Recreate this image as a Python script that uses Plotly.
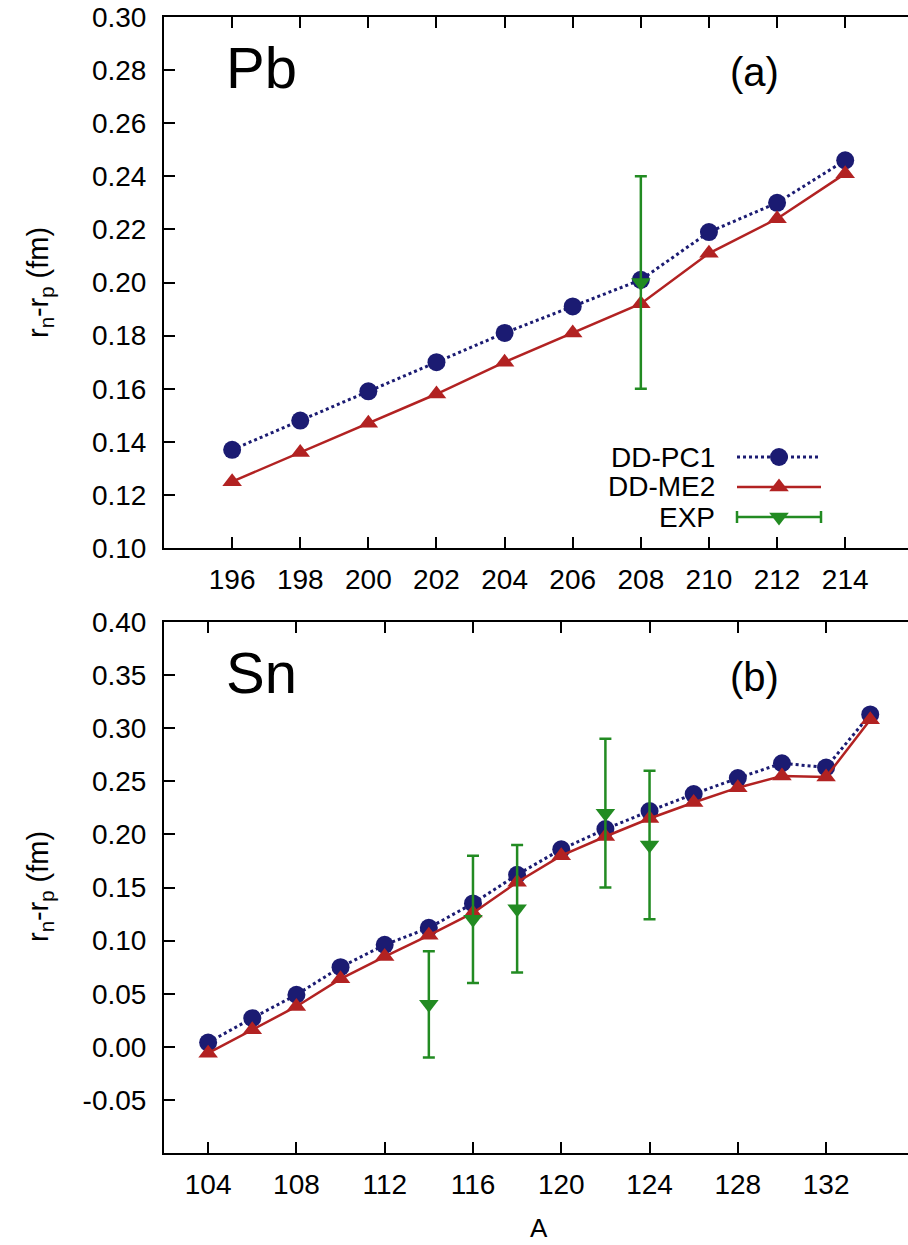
import plotly.graph_objects as go

# ---- Pb chain (panel a) ----
pb_A = [196, 198, 200, 202, 204, 206, 208, 210, 212, 214]
pb_pc1 = [0.137, 0.148, 0.159, 0.170, 0.181, 0.191, 0.201, 0.219, 0.230, 0.246]
pb_me2 = [0.125, 0.136, 0.147, 0.158, 0.170, 0.181, 0.192, 0.211, 0.224, 0.241]
pb_exp_A = [208]
pb_exp = [0.20]
pb_exp_err = [0.04]

# ---- Sn chain (panel b) ----
sn_A = [104, 106, 108, 110, 112, 114, 116, 118, 120, 122, 124, 126, 128, 130, 132, 134]
sn_pc1 = [0.004, 0.027, 0.049, 0.075, 0.096, 0.112, 0.135, 0.162, 0.186, 0.205,
          0.222, 0.238, 0.253, 0.267, 0.263, 0.313]
sn_me2 = [-0.006, 0.016, 0.038, 0.064, 0.085, 0.105, 0.126, 0.155, 0.180, 0.198,
          0.215, 0.230, 0.244, 0.255, 0.254, 0.308]
sn_exp_A = [114, 116, 118, 122, 124]
sn_exp = [0.04, 0.12, 0.13, 0.22, 0.19]
sn_exp_err = [0.05, 0.06, 0.06, 0.07, 0.07]

pb_xticks = [196, 198, 200, 202, 204, 206, 208, 210, 212, 214]
pb_yticks = [0.10, 0.12, 0.14, 0.16, 0.18, 0.20, 0.22, 0.24, 0.26, 0.28, 0.30]
sn_xticks = [104, 108, 112, 116, 120, 124, 128, 132]
sn_yticks = [-0.05, 0.00, 0.05, 0.10, 0.15, 0.20, 0.25, 0.30, 0.35, 0.40]

names = ["DD-PC1", "DD-ME2", "EXP"]

BLUE = "#1b1b72"
RED = "#b22222"
GREEN = "#228b22"
FONT = "Liberation Sans, Arial, sans-serif"

W, H = 908, 1245
ML, MR, MT, MB = 164, 0, 17, 92
PW, PH = W - ML - MR, H - MT - MB


def px(x):
    return (x - ML) / PW


def py(y):
    return (H - MB - y) / PH


fig = go.Figure()


def add_panel(xa, ya, A, pc1, me2, eA, e, err):
    fig.add_trace(go.Scatter(
        x=A, y=pc1, xaxis=xa, yaxis=ya, mode="lines+markers",
        line=dict(color=BLUE, width=3, dash="3px,3px"),
        marker=dict(symbol="circle", size=18, color=BLUE), showlegend=False))
    fig.add_trace(go.Scatter(
        x=A, y=me2, xaxis=xa, yaxis=ya, mode="lines+markers",
        line=dict(color=RED, width=2.5),
        marker=dict(symbol="triangle-up", size=17, color=RED), showlegend=False))
    fig.add_trace(go.Scatter(
        x=eA, y=e, xaxis=xa, yaxis=ya, mode="markers",
        error_y=dict(type="data", array=err, color=GREEN, thickness=2.5, width=6),
        marker=dict(symbol="triangle-down", size=17, color=GREEN), showlegend=False))


add_panel("x", "y", pb_A, pb_pc1, pb_me2, pb_exp_A, pb_exp, pb_exp_err)
add_panel("x2", "y2", sn_A, sn_pc1, sn_me2, sn_exp_A, sn_exp, sn_exp_err)

# ---- key for panel a, drawn on a full-figure pixel-unit axis pair ----
key_x0, key_x1, key_xm, key_tx = 737, 821, 779, 717
key_rows = [457, 487, 517]
key = dict(xaxis="x3", yaxis="y3", showlegend=False, hoverinfo="skip")
fig.add_trace(go.Scatter(x=[key_x0, key_x1], y=[key_rows[0]] * 2, mode="lines",
                         line=dict(color=BLUE, width=3, dash="3px,3px"), **key))
fig.add_trace(go.Scatter(x=[key_xm], y=[key_rows[0]], mode="markers",
                         marker=dict(symbol="circle", size=18, color=BLUE), **key))
fig.add_trace(go.Scatter(x=[key_x0, key_x1], y=[key_rows[1]] * 2, mode="lines",
                         line=dict(color=RED, width=2.5), **key))
fig.add_trace(go.Scatter(x=[key_xm], y=[key_rows[1]], mode="markers",
                         marker=dict(symbol="triangle-up", size=17, color=RED), **key))
fig.add_trace(go.Scatter(x=[key_x0, key_x1], y=[key_rows[2]] * 2, mode="lines",
                         line=dict(color=GREEN, width=2.5), **key))
for cx in (key_x0, key_x1):
    fig.add_trace(go.Scatter(x=[cx, cx], y=[key_rows[2] - 6, key_rows[2] + 6], mode="lines",
                             line=dict(color=GREEN, width=2.5), **key))
fig.add_trace(go.Scatter(x=[key_xm], y=[key_rows[2]], mode="markers",
                         marker=dict(symbol="triangle-down", size=17, color=GREEN), **key))

annotations = []
for name, ry in zip(names, key_rows):
    annotations.append(dict(x=px(key_tx), y=py(ry), text=name,
                            xanchor="right", yanchor="middle",
                            font=dict(size=28, color="black", family=FONT)))

# panel titles, tags and axis titles
annotations += [
    dict(x=px(224), y=py(67), text="Pb", font=dict(size=58, family=FONT, color="black"),
         xanchor="left", yanchor="middle"),
    dict(x=px(754), y=py(72), text="(a)", font=dict(size=40, family=FONT, color="black"),
         xanchor="center", yanchor="middle"),
    dict(x=px(224), y=py(672), text="Sn", font=dict(size=58, family=FONT, color="black"),
         xanchor="left", yanchor="middle"),
    dict(x=px(754), y=py(677), text="(b)", font=dict(size=40, family=FONT, color="black"),
         xanchor="center", yanchor="middle"),
    dict(x=px(40), y=py(283), text="r<sub>n</sub>-r<sub>p</sub> (fm)", textangle=-90,
         font=dict(size=29, family=FONT, color="black"), xanchor="center", yanchor="middle"),
    dict(x=px(40), y=py(887), text="r<sub>n</sub>-r<sub>p</sub> (fm)", textangle=-90,
         font=dict(size=29, family=FONT, color="black"), xanchor="center", yanchor="middle"),
    dict(x=px(539), y=py(1228), text="A", font=dict(size=26, family=FONT, color="black"),
         xanchor="center", yanchor="middle"),
]
for a in annotations:
    a["xref"] = "paper"
    a["yref"] = "paper"
    a["showarrow"] = False

tick_style = dict(ticks="inside", ticklen=11, tickwidth=1.5, tickcolor="black",
                  showgrid=False, zeroline=False)
axis_common = dict(
    showline=True, linecolor="black", linewidth=2, mirror="ticks",
    tickfont=dict(size=28, family=FONT, color="black"), **tick_style,
)
# left axes: line and ticks on the left only; right-hand ticks come from twin axes
yaxis_common = dict(
    showline=True, linecolor="black", linewidth=2, mirror=False,
    tickfont=dict(size=28, family=FONT, color="black"), **tick_style,
)

top_dom = [py(548), 1.0]
bot_dom = [0.0, py(622)]

fig.update_layout(
    width=W, height=H,
    margin=dict(l=ML, r=MR, t=MT, b=MB),
    paper_bgcolor="white", plot_bgcolor="rgba(0,0,0,0)",
    showlegend=False,
    annotations=annotations,
    xaxis=dict(domain=[0, 1], anchor="y", range=[194, 194 + PW / 34.06],
               tickvals=pb_xticks, ticktext=[str(v) for v in pb_xticks],
               ticklabelstandoff=5, **axis_common),
    yaxis=dict(domain=top_dom, anchor="x", range=[0.10, 0.30],
               tickvals=pb_yticks, ticktext=[f"{v:.2f}" for v in pb_yticks],
               ticklabelstandoff=10, **yaxis_common),
    xaxis2=dict(domain=[0, 1], anchor="y2", range=[102, 102 + PW / 22.07],
                tickvals=sn_xticks, ticktext=[str(v) for v in sn_xticks],
                ticklabelstandoff=5, **axis_common),
    yaxis2=dict(domain=bot_dom, anchor="x2", range=[-0.10, 0.40],
                tickvals=sn_yticks,
                ticktext=[f"{v:.2f}" for v in sn_yticks],
                ticklabelstandoff=10, **yaxis_common),
    xaxis3=dict(domain=[0, 1], anchor="y3", range=[ML, W - MR], visible=False,
                fixedrange=True),
    yaxis3=dict(domain=[0, 1], anchor="x3", range=[H - MB, MT], visible=False,
                fixedrange=True),
    yaxis4=dict(overlaying="y", side="right", anchor="x", range=[0.10, 0.30],
                tickvals=pb_yticks, showticklabels=False, showline=False, **tick_style),
    yaxis5=dict(overlaying="y2", side="right", anchor="x2", range=[-0.10, 0.40],
                tickvals=sn_yticks, showticklabels=False, showline=False, **tick_style),
)

fig.write_html("out.html")
